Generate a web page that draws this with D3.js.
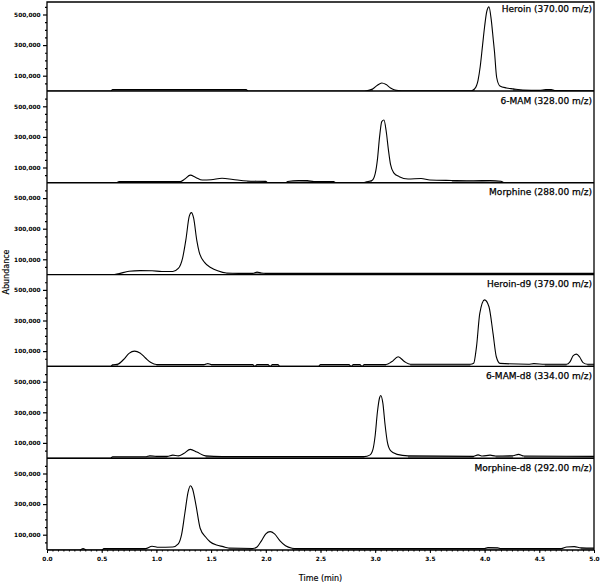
<!DOCTYPE html>
<html>
<head>
<meta charset="utf-8">
<script src="https://cdn.jsdelivr.net/npm/d3@7"></script>
<style>
  body { margin: 0; background: #fff; }
  text { font-family: "DejaVu Sans", sans-serif; fill: #000; }
</style>
</head>
<body>
<div class="chartDiv"></div>
<script>
// Chromatogram panels, [time (min), abundance]
let heroinTrace = [[0,0],[0.58,0],[0.6,9000],[1.82,9000],[1.84,0],[2.9,0],[2.94,4000],[2.98,15000],[3.02,38000],[3.06,52000],[3.1,42000],[3.14,20000],[3.18,7000],[3.24,2000],[3.88,2000],[3.91,15000],[3.94,70000],[3.96,160000],[3.98,290000],[4.0,420000],[4.02,520000],[4.04,550000],[4.06,470000],[4.08,330000],[4.09,260000],[4.11,90000],[4.14,33000],[4.2,20000],[4.26,14000],[4.35,6000],[4.5,4000],[4.56,9000],[4.61,9000],[4.64,3000],[5,2000]];
let mamTrace = [[0,0],[0.63,0],[0.66,8000],[1.22,8000],[1.26,25000],[1.31,50000],[1.36,35000],[1.42,18000],[1.5,20000],[1.6,30000],[1.7,22000],[1.83,12000],[2.0,9000],[2.02,0],[2.18,0],[2.2,8000],[2.3,15000],[2.38,14000],[2.44,8000],[2.62,8000],[2.64,0],[2.88,0],[2.92,6000],[2.97,15000],[3.0,60000],[3.02,150000],[3.04,300000],[3.06,400000],[3.08,410000],[3.1,340000],[3.12,220000],[3.14,120000],[3.17,65000],[3.22,40000],[3.3,25000],[3.42,28000],[3.5,18000],[3.7,15000],[3.9,13000],[4.05,15000],[4.15,10000],[4.18,0],[5,0]];
let morphineTrace = [[0,0],[0.6,0],[0.65,5000],[0.75,22000],[0.85,26000],[0.96,25000],[1.05,20000],[1.15,20000],[1.2,40000],[1.24,110000],[1.27,230000],[1.3,380000],[1.32,405000],[1.34,370000],[1.37,220000],[1.39,150000],[1.44,80000],[1.5,45000],[1.56,25000],[1.64,10000],[1.75,8000],[1.88,8000],[1.92,16000],[1.96,10000],[2.0,8000],[5,8000]];
let heroinD9Trace = [[0,0],[0.58,0],[0.6,10000],[0.65,15000],[0.7,45000],[0.75,85000],[0.8,100000],[0.85,88000],[0.9,55000],[0.95,25000],[1.0,12000],[1.44,12000],[1.47,18000],[1.5,12000],[1.88,12000],[1.9,0],[1.92,12000],[2.02,12000],[2.04,0],[2.06,12000],[2.11,12000],[2.13,0],[2.48,0],[2.5,12000],[2.76,12000],[2.78,0],[2.8,12000],[2.86,12000],[2.88,0],[2.9,12000],[3.1,12000],[3.15,30000],[3.21,63000],[3.27,30000],[3.32,14000],[3.87,14000],[3.9,20000],[3.926,129000],[3.956,347000],[4.0,435000],[4.04,390000],[4.077,216000],[4.107,63000],[4.14,20000],[4.4,14000],[4.45,18000],[4.55,14000],[4.75,14000],[4.78,30000],[4.81,70000],[4.84,80000],[4.87,60000],[4.9,25000],[4.94,14000],[5,14000]];
let mamD8Trace = [[0,0],[0.58,0],[0.6,9000],[0.9,9000],[0.94,16000],[1.0,12000],[1.1,12000],[1.15,20000],[1.2,15000],[1.25,30000],[1.31,58000],[1.37,40000],[1.45,15000],[1.6,10000],[2.9,10000],[2.95,20000],[2.98,60000],[3.0,150000],[3.02,300000],[3.04,395000],[3.05,410000],[3.07,360000],[3.09,220000],[3.11,110000],[3.14,50000],[3.2,25000],[3.3,15000],[3.9,12000],[3.94,22000],[3.98,14000],[4.05,20000],[4.1,14000],[4.26,16000],[4.31,25000],[4.36,14000],[5,12000]];
let morphineD8Trace = [[0,0],[0.3,0],[0.33,10000],[0.36,0],[0.5,0],[0.52,9000],[0.9,9000],[0.96,25000],[1.02,18000],[1.15,20000],[1.2,40000],[1.23,100000],[1.26,240000],[1.29,380000],[1.31,420000],[1.33,400000],[1.36,300000],[1.4,142000],[1.45,85000],[1.49,54000],[1.55,32000],[1.61,22000],[1.66,13000],[1.88,10000],[1.92,20000],[1.96,60000],[2.0,105000],[2.04,120000],[2.08,105000],[2.13,60000],[2.18,28000],[2.24,12000],[2.28,9000],[4.0,9000],[4.03,16000],[4.12,15000],[4.15,9000],[4.7,9000],[4.75,20000],[4.82,22000],[4.88,14000],[5,12000]];

let traces = [heroinTrace, mamTrace, morphineTrace, heroinD9Trace, mamD8Trace, morphineD8Trace];
let panelLabels = ["Heroin (370.00 m/z)", "6-MAM (328.00 m/z)", "Morphine (288.00 m/z)",
                   "Heroin-d9 (379.00 m/z)", "6-MAM-d8 (334.00 m/z)", "Morphine-d8 (292.00 m/z)"];
let yLabelTicks = [100000, 300000, 500000];
let yMinorTicks = [50000, 150000, 200000, 250000, 350000, 400000, 450000, 550000];
let xLabelTicks = [0, 0.5, 1.0, 1.5, 2.0, 2.5, 3.0, 3.5, 4.0, 4.5, 5.0];
let xMinorTicks = d3.range(0, 101).map(i => i / 20);

let svgWidth = 600;
let svgHeight = 584;
let left = 47, right = 594, axisY = 550, frameTop = 2;
let panelH = 91.8;

let svg = d3.select('.chartDiv')
            .append('svg')
            .attr('width', svgWidth)
            .attr('height', svgHeight);

let xScale = d3.scaleLinear()
               .domain([0, 5])
               .range([left, right]);

traces.forEach((trace, i) => {
  let bottom = axisY - (traces.length - 1 - i) * panelH;
  let top = Math.max(frameTop, bottom - panelH);

  let yScale = d3.scaleLinear()
                 .domain([0, 600000])
                 .range([bottom, bottom - panelH]);

  let clipId = `clip${i}`;
  svg.append('clipPath')
     .attr('id', clipId)
     .append('rect')
     .attr('x', left)
     .attr('y', top)
     .attr('width', right - left)
     .attr('height', bottom - top);

  // grey band where the trace hugs the baseline
  let area = d3.area()
               .defined(d => d[1] <= 16000)
               .x(d => xScale(d[0]))
               .y0(bottom)
               .y1(d => yScale(d[1]))
               .curve(d3.curveLinear);

  svg.append('path')
     .datum(trace)
     .attr('d', area)
     .attr('fill', '#8c8c8c');

  let line = d3.line()
               .x(d => xScale(d[0]))
               .y(d => yScale(d[1]))
               .curve(d3.curveMonotoneX);

  svg.append('path')
     .datum(trace)
     .attr('d', line)
     .attr('fill', 'none')
     .attr('stroke', '#000')
     .attr('stroke-width', 1.1)
     .attr('clip-path', `url(#${clipId})`);

  // y ticks
  let minorAxis = d3.axisLeft(yScale)
                    .tickValues(yMinorTicks.filter(v => yScale(v) > top))
                    .tickSize(2)
                    .tickFormat('');
  let majorAxis = d3.axisLeft(yScale)
                    .tickValues(yLabelTicks)
                    .tickSize(4)
                    .tickPadding(2.5)
                    .tickFormat(d3.format(','));

  [minorAxis, majorAxis].forEach(ax => {
    let g = svg.append('g')
               .attr('transform', `translate(${left}, 0)`)
               .call(ax);
    g.select('.domain').remove();
    g.selectAll('line').attr('stroke', '#000').attr('stroke-width', 1.2);
    g.selectAll('text')
     .style('font-size', '5.8px')
     .style('font-weight', 'bold')
     .style('font-family', '"DejaVu Sans", sans-serif');
  });

  // panel bottom line
  svg.append('line')
     .attr('x1', left)
     .attr('x2', right)
     .attr('y1', bottom)
     .attr('y2', bottom)
     .attr('stroke', '#000')
     .attr('stroke-width', 1.4);

  svg.append('text')
     .attr('x', right - 2)
     .attr('y', bottom - panelH + 12.5)
     .attr('text-anchor', 'end')
     .attr('stroke', '#000')
     .attr('stroke-width', 0.25)
     .style('font-size', '9px')
     .text(panelLabels[i]);
});

// frame
svg.append('path')
   .attr('d', `M${left},${axisY}V${frameTop}H${right}V${axisY}`)
   .attr('fill', 'none')
   .attr('stroke', '#000')
   .attr('stroke-width', 1.3);

// x axis
let xMinor = d3.axisBottom(xScale)
               .tickValues(xMinorTicks)
               .tickSize(1.5)
               .tickFormat('');
let xMajor = d3.axisBottom(xScale)
               .tickValues(xLabelTicks)
               .tickSize(3)
               .tickPadding(3.5)
               .tickFormat(d3.format('.1f'));

[xMinor, xMajor].forEach(ax => {
  let g = svg.append('g')
             .attr('transform', `translate(0, ${axisY})`)
             .call(ax);
  g.select('.domain').remove();
  g.selectAll('line').attr('stroke', '#000').attr('stroke-width', 1);
  g.selectAll('text')
   .style('font-size', '5.8px')
   .style('font-weight', 'bold')
   .style('font-family', '"DejaVu Sans", sans-serif');
});

svg.append('text')
   .attr('x', xScale(2.5))
   .attr('y', 581)
   .attr('text-anchor', 'middle')
   .attr('stroke', '#000')
   .attr('stroke-width', 0.15)
   .style('font-size', '8px')
   .text('Time (min)');

svg.append('text')
   .attr('transform', 'translate(9, 272) rotate(-90)')
   .attr('text-anchor', 'middle')
   .attr('stroke', '#000')
   .attr('stroke-width', 0.15)
   .style('font-size', '8px')
   .text('Abundance');
</script>
</body>
</html>
